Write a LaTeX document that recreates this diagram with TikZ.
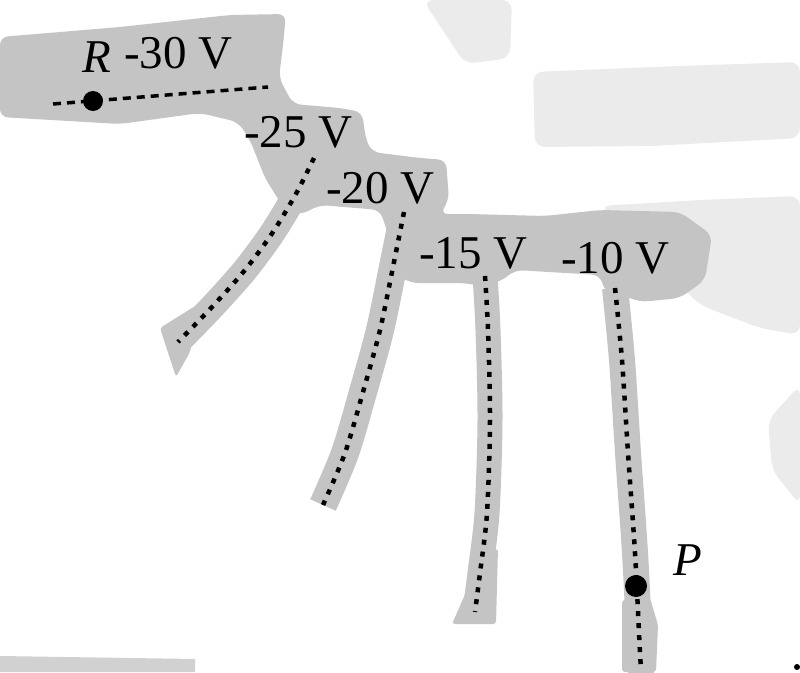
\documentclass[tikz,border=0pt]{standalone}
\usepackage{fontspec}
\setmainfont{Liberation Serif}
\begin{document}
\begin{tikzpicture}[x=1pt,y=-1pt,
  lbl/.style={anchor=base west,inner sep=0pt,font=\fontsize{47}{50}\selectfont},
  blob/.style={fill=black!23,draw=none,rounded corners=8pt},
  faint/.style={fill=black!8,draw=none,rounded corners=10pt},
  halo/.style={draw=black!23,line width=28pt,line cap=butt,line join=round},
  eqline/.style={draw=black,line width=4.5pt,dash pattern=on 5pt off 7pt},
  rline/.style={draw=black,line width=3.5pt,dash pattern=on 8pt off 6pt},
  pdot/.style={circle,fill=black,inner sep=0pt,minimum size=22pt}]
\useasboundingbox (0,0) rectangle (800,672);
\fill[white] (0,0) rectangle (800,672);

% faint background areas
\path[faint] (423,0) -- (512,0) -- (510,58) -- (465,64) -- cycle;
\path[faint] (533,72) -- (680,66) -- (800,62) -- (800,138) -- (650,146) -- (535,147) -- cycle;
\path[faint] (600,206) -- (700,200) -- (800,196) -- (800,335) -- (760,328) -- (700,305) -- cycle;
\path[faint] (800,385) -- (768,420) -- (772,470) -- (800,505) -- cycle;
\path[fill=black!18] (0,656) -- (195,659) -- (195,672) -- (0,672) -- cycle;
\fill[black] (797,667) circle (3);

% main grey area
\path[blob] (0,37) -- (120,27) -- (230,15) -- (286,14) -- (283,45) -- (279,78)
  -- (293,104) -- (340,108) -- (362,112) -- (366,140) -- (372,152) -- (420,158)
  -- (446,160) -- (449,200) -- (440,214) -- (470,214) -- (545,216) -- (600,210)
  -- (680,212) -- (712,235) -- (705,280) -- (680,298) -- (640,302) -- (625,296)
  -- (605,292) -- (600,275) -- (515,270) -- (500,282) -- (475,285) -- (465,283)
  -- (410,283) -- (398,275) -- (390,240) -- (380,210) -- (320,205) -- (300,215)
  -- (285,210) -- (265,178) -- (250,140) -- (238,122) -- (200,113) -- (120,124)
  -- (0,117) -- cycle;

% line points
\coordinate (r0) at (53,104);
\coordinate (r1) at (268,87);
\coordinate (a1) at (314,158);
\coordinate (a2) at (297,192);
\coordinate (a3) at (273,232);
\coordinate (a4) at (245,270);
\coordinate (a5) at (212,307);
\coordinate (a6) at (178,342);
\coordinate (b1) at (404,212);
\coordinate (b2) at (393,267);
\coordinate (b3) at (380,330);
\coordinate (b4) at (363,392);
\coordinate (b5) at (345,453);
\coordinate (b6) at (323,505);
\coordinate (c1) at (485,276);
\coordinate (c2) at (488,330);
\coordinate (c3) at (490,420);
\coordinate (c4) at (487,513);
\coordinate (c5) at (480,573);
\coordinate (c6) at (475,612);
\coordinate (d1) at (615,288);
\coordinate (d2) at (622,360);
\coordinate (d3) at (628,453);
\coordinate (d4) at (635,553);
\coordinate (d5) at (640,653);
\coordinate (d6) at (641,676);
\coordinate (d7) at (641,666);

% halos
\draw[halo,line width=26pt] plot[smooth] coordinates {(a1) (a2) (a3) (a4) (a5) (a6)};
\draw[halo] plot[smooth] coordinates {(b1) (b2) (b3) (b4) (b5) (b6)};
\draw[halo,line width=25pt] plot[smooth] coordinates {(c1) (c2) (c3) (c4) (c5) (c6)};
\draw[halo,line width=26pt] plot[smooth] coordinates {(d1) (d2) (d3) (d4) (d5) (d6)};
\path[blob,rounded corners=3pt] (160,328) -- (200,303) -- (190,352) -- (176,377) -- cycle;
\path[blob,rounded corners=3pt] (452,624) -- (478,565) -- (498,548) -- (496,624) -- cycle;
\path[blob,rounded corners=3pt] (622,600) -- (650,598) -- (658,625) -- (656,672) -- (622,672) -- cycle;

% equipotential lines
\draw[rline] (r0) -- (r1);
\draw[eqline] plot[smooth] coordinates {(a1) (a2) (a3) (a4) (a5) (a6)};
\draw[eqline] plot[smooth] coordinates {(b1) (b2) (b3) (b4) (b5) (b6)};
\draw[eqline] plot[smooth] coordinates {(c1) (c2) (c3) (c4) (c5) (c6)};
\draw[eqline] plot[smooth] coordinates {(d1) (d2) (d3) (d4) (d5) (d7)};

% points
\node[pdot,minimum size=20pt] (R) at (93,101) {};
\node[pdot] (P) at (636,586) {};

% labels
\node[lbl] (Rlab) at (82,72) {\itshape R};
\node[lbl] (l30) at (124,68) {-30 V};
\node[lbl] (l25) at (244,147) {-25 V};
\node[lbl] (l20) at (326,203) {-20 V};
\node[lbl] (l15) at (419,268) {-15 V};
\node[lbl] (l10) at (561,273) {-10 V};
\node[lbl] (Plab) at (673,575) {\itshape P};
\end{tikzpicture}
\end{document}
